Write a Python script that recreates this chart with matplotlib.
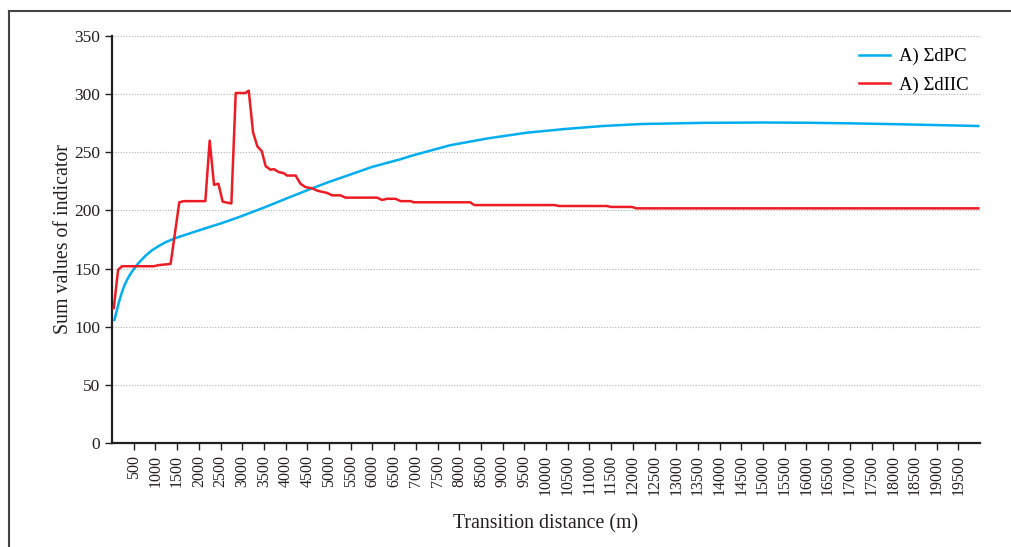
import matplotlib
matplotlib.use("Agg")
import matplotlib.pyplot as plt
from matplotlib.lines import Line2D

plt.rcParams['font.family'] = ['Liberation Serif', 'DejaVu Serif']

# sum of dPC (blue)
dpc_dist = [55, 101, 155, 209, 270, 324, 385, 462, 540, 616, 770, 923, 1080, 1230,
            1460, 1768, 2150, 2536, 2920, 3540, 4000, 4610, 5000, 5500, 6000, 6646,
            6900, 7783, 8666, 9548, 10431, 11311, 12194, 13604, 15000, 16000, 17000,
            18000, 19000, 19960]
dpc_vals = [105.8, 112.5, 120.5, 127.5, 134.0, 138.7, 143.0, 147.5, 151.6, 155.0,
            161.0, 165.8, 169.5, 172.6, 176.2, 180.0, 184.6, 189.2, 194.2, 203.0,
            210.0, 219.0, 224.5, 231.0, 237.5, 244.0, 247.0, 256.0, 262.0, 266.8,
            270.0, 272.6, 274.3, 275.3, 275.6, 275.4, 274.9, 274.2, 273.4, 272.6]

# sum of dIIC (red)
diic_dist = [40, 140, 230, 960, 1080, 1350, 1550, 1650, 2150, 2250, 2350, 2450, 2550,
             2750, 2850, 3070, 3150, 3250, 3350, 3450, 3540, 3650, 3730, 3840, 3960,
             4030, 4230, 4340, 4460, 4610, 4730, 4840, 4960, 5070, 5260, 5380, 6110,
             6220, 6340, 6530, 6650, 6880, 6950, 8250, 8350, 10200, 10300, 11400,
             11500, 11980, 12080, 19960]
diic_vals = [116, 149, 152, 152, 153, 154, 207, 208, 208, 260, 222, 223, 207.5,
             206, 301, 301, 303, 267, 255, 251, 238, 235, 235.5, 233, 232,
             230, 230, 223, 220, 219, 217, 216, 215, 213, 213, 211, 211,
             209, 210, 210, 208, 208, 207, 207, 204.6, 204.6, 203.8, 203.8,
             203, 203, 201.8, 201.8]

x_ticks = list(range(500, 20000, 500))
y_ticks = [0, 50, 100, 150, 200, 250, 300, 350]

fig = plt.figure(figsize=(10.12, 5.47), dpi=100)
ax = fig.add_axes([0.1107, 0.1901, 0.8577, 0.7441])

ax.plot(dpc_dist, dpc_vals, color='#00AEEF', lw=1.8, label='A) ΣdPC', zorder=3)
ax.plot(diic_dist, diic_vals, color='#ED1C24', lw=1.8, label='A) ΣdIIC', zorder=4)

ax.set_xlim(0, 20000)
ax.set_ylim(0, 350)
ax.set_xticks(x_ticks)
ax.set_xticklabels([str(t) for t in x_ticks], rotation=90, fontsize=11.5, color='#231f20')
ax.set_yticks(y_ticks)
ax.set_yticklabels([str(t) for t in y_ticks], fontsize=12.5, color='#231f20')
ax.tick_params(axis='both', direction='out', length=5, width=1, color='#231f20')

for s in ['top', 'right']:
    ax.spines[s].set_visible(False)
for s in ['left', 'bottom']:
    ax.spines[s].set_linewidth(1.6)
    ax.spines[s].set_color('#231f20')

ax.yaxis.grid(True, linestyle=(0, (1, 1.5)), color='#b0b0b0', lw=0.8)
ax.set_axisbelow(True)

ax.set_xlabel('Transition distance (m)', fontsize=14.3, color='#231f20', labelpad=14)
ax.set_ylabel('Sum values of indicator', fontsize=14.3, color='#231f20', labelpad=1)

ax.legend(loc='upper right', frameon=False, fontsize=13.5, handlelength=1.65,
          handletextpad=0.45, bbox_to_anchor=(1.006, 1.012), labelspacing=0.6)

# outer frame (left and top edges)
fig.add_artist(Line2D([9 / 1012, 9 / 1012], [0, 1 - 11 / 547], color='#444444', lw=1.5))
fig.add_artist(Line2D([9 / 1012, 1], [1 - 11 / 547, 1 - 11 / 547], color='#444444', lw=1.5))

fig.savefig('out.png', dpi=100)
